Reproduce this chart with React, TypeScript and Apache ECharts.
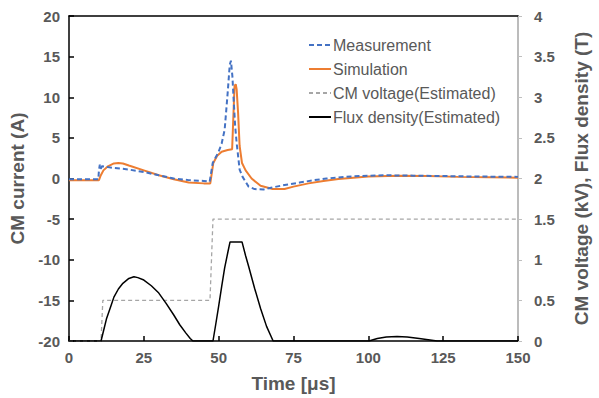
import React, { useEffect, useRef } from "react";
import * as echarts from "echarts";

// time [µs], CM current [A]
const measurement: [number, number][] = [
  [0, -0.1], [5, -0.1], [9.8, -0.1], [10, 1.0], [10.3, 1.7], [10.6, 1.2], [11, 1.5],
  [13, 1.4], [15, 1.3], [18, 1.2], [20, 1.1], [25, 0.8], [30, 0.4], [35, 0.0],
  [40, -0.2], [45, -0.3], [47, -0.4], [48, 1.9], [50, 3.3], [51, 4.3], [52, 6.0],
  [53, 10.5], [53.7, 14.0], [54.1, 14.5], [54.6, 12.5], [55, 9.7], [55.5, 6.5],
  [56, 4.4], [57, 1.1], [58, 0.2], [60, -1.0], [62, -1.3], [65, -1.35], [68, -1.1],
  [72, -0.8], [77, -0.5], [82, -0.2], [86, 0.0], [92, 0.2], [97, 0.3], [105, 0.4],
  [115, 0.35], [125, 0.3], [135, 0.25], [150, 0.2],
];

const simulation: [number, number][] = [
  [0, -0.2], [10, -0.2], [10.5, 0.3], [11.5, 1.0], [13, 1.5], [15, 1.85], [16.5, 1.9],
  [18, 1.85], [20, 1.6], [25, 1.0], [30, 0.4], [35, -0.1], [40, -0.5], [45, -0.6],
  [47.2, -0.6], [48.2, 1.9], [49.5, 2.8], [51, 3.3], [53, 3.5], [54.5, 3.6],
  [55.3, 11.4], [55.7, 11.6], [56, 11.0], [56.5, 8.0], [57, 4.0], [57.8, 1.9],
  [59, 1.0], [61, 0.0], [64, -0.9], [68, -1.3], [72, -1.3], [75, -1.0], [80, -0.6],
  [85, -0.3], [90, -0.05], [95, 0.1], [100, 0.25], [110, 0.35], [120, 0.3],
  [130, 0.2], [140, 0.15], [150, 0.1],
];

// time [µs], CM voltage [kV]
const cmVoltage: [number, number][] = [
  [0, 0], [10.7, 0], [11.3, 0.5], [47.1, 0.5], [48.1, 1.5], [150, 1.5],
];

// time [µs], flux density [T]
const fluxDensity: [number, number][] = [
  [0, 0], [10.7, 0], [11.5, 0.12], [12.5, 0.27], [14, 0.43], [15, 0.54], [16.5, 0.64],
  [18, 0.71], [20, 0.77], [21.7, 0.79], [23, 0.78], [25, 0.75], [27.5, 0.68],
  [30, 0.59], [32.5, 0.46], [35, 0.32], [37, 0.2], [39, 0.1], [40.5, 0.03], [41.4, 0],
  [48.1, 0], [49, 0.2], [50, 0.43], [51, 0.67], [52, 0.9], [53, 1.08], [53.8, 1.22],
  [57.8, 1.22], [59, 1.05], [60, 0.92], [62, 0.65], [64, 0.4], [66, 0.18], [68.2, 0],
  [100.2, 0], [103, 0.03], [106, 0.05], [109.6, 0.055], [113, 0.05], [117, 0.03],
  [120, 0.015], [123, 0], [150, 0],
];

const seriesNames = [
  "Measurement",
  "Simulation",
  "CM voltage(Estimated)",
  "Flux density(Estimated)",
];

const FONT = "'Liberation Sans', Arial, sans-serif";
const GRAY = "#595959";

export default function App() {
  const ref = useRef<HTMLDivElement>(null);
  useEffect(() => {
    if (!ref.current) return;
    const chart = echarts.init(ref.current, null, { renderer: "svg" });
    chart.setOption({
      animation: false,
      textStyle: { fontFamily: FONT },
      grid: { left: 69, right: 81, top: 16, bottom: 57 },
      legend: {
        orient: "vertical",
        left: 303,
        top: 32,
        itemWidth: 22,
        itemHeight: 14,
        itemGap: 8,
        itemStyle: { opacity: 0 },
        textStyle: { fontSize: 16, color: GRAY, fontFamily: FONT, padding: [0, 0, 0, -3] },
        data: seriesNames,
      },
      xAxis: [
        {
          type: "value",
          min: 0,
          max: 150,
          interval: 25,
          name: "Time [μs]",
          nameLocation: "middle",
          nameGap: 33,
          nameTextStyle: { fontSize: 19, fontWeight: "bold", color: GRAY, fontFamily: FONT },
          axisLine: { show: true, onZero: false, lineStyle: { color: "#000", width: 1.5 } },
          axisTick: { show: true, inside: true, length: 5, lineStyle: { color: "#000", width: 1.5 } },
          axisLabel: { fontSize: 15, fontWeight: "bold", color: GRAY, margin: 9, fontFamily: FONT },
          splitLine: { show: false },
        },
        {
          type: "value",
          position: "top",
          min: 0,
          max: 150,
          axisLine: { show: true, onZero: false, lineStyle: { color: "#000", width: 1.5 } },
          axisTick: { show: false },
          axisLabel: { show: false },
          splitLine: { show: false },
        },
      ],
      yAxis: [
        {
          type: "value",
          min: -20,
          max: 20,
          interval: 5,
          position: "left",
          name: "CM current (A)",
          nameLocation: "middle",
          nameGap: 34,
          nameTextStyle: { fontSize: 19, fontWeight: "bold", color: GRAY, fontFamily: FONT },
          axisLine: { show: true, onZero: false, lineStyle: { color: "#000", width: 1.5 } },
          axisTick: { show: true, inside: true, length: 5, lineStyle: { color: "#000", width: 1.5 } },
          axisLabel: { fontSize: 15, fontWeight: "bold", color: GRAY, margin: 9, fontFamily: FONT },
          splitLine: { show: false },
        },
        {
          type: "value",
          min: 0,
          max: 4,
          interval: 0.5,
          position: "right",
          name: "CM voltage (kV), Flux density (T)",
          nameLocation: "middle",
          nameGap: 54,
          nameRotate: 90,
          nameTextStyle: { fontSize: 19, fontWeight: "bold", color: GRAY, fontFamily: FONT },
          axisLine: { show: true, onZero: false, lineStyle: { color: "#a6a6a6", width: 1.5 } },
          axisTick: { show: true, inside: false, length: 4, lineStyle: { color: "#bfbfbf", width: 1 } },
          axisLabel: { fontSize: 15, fontWeight: "bold", color: GRAY, margin: 16, fontFamily: FONT },
          splitLine: { show: false },
        },
      ],
      series: [
        {
          name: seriesNames[0],
          type: "line",
          data: measurement,
          symbol: "none",
          z: 4,
          lineStyle: { color: "#4472C4", width: 2, type: [5, 3] },
          itemStyle: { color: "#4472C4" },
        },
        {
          name: seriesNames[1],
          type: "line",
          data: simulation,
          symbol: "none",
          z: 3,
          lineStyle: { color: "#ED7D31", width: 2 },
          itemStyle: { color: "#ED7D31" },
        },
        {
          name: seriesNames[2],
          type: "line",
          yAxisIndex: 1,
          data: cmVoltage,
          symbol: "none",
          lineStyle: { color: "#a6a6a6", width: 1.3, type: [4, 3] },
          itemStyle: { color: "#a6a6a6" },
        },
        {
          name: seriesNames[3],
          type: "line",
          yAxisIndex: 1,
          data: fluxDensity,
          symbol: "none",
          lineStyle: { color: "#000", width: 1.5 },
          itemStyle: { color: "#000" },
        },
      ],
    });
    return () => chart.dispose();
  }, []);
  return <div ref={ref} style={{ width: 599, height: 398, position: "absolute", left: 0, top: 0 }} />;
}
